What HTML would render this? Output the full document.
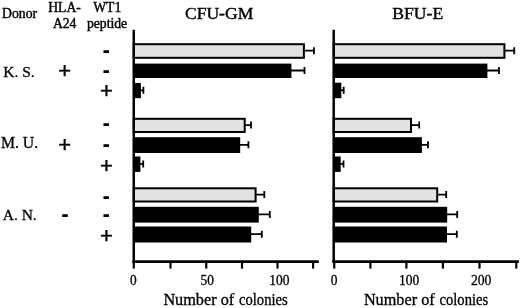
<!DOCTYPE html>
<html><head><meta charset="utf-8"><title>Colony assay</title>
<style>
html,body{margin:0;padding:0;background:#fff;}
svg{display:block;filter:blur(0.4px);}
text{font-family:"Liberation Serif",serif;fill:#000;stroke:#000;stroke-width:0.3px;}
.s{font-family:"Liberation Sans",sans-serif;}
</style></head><body>
<svg width="520" height="308" viewBox="0 0 520 308">
<rect width="520" height="308" fill="#fff"/>

<path d="M303.9 50.7H314M314 47.2V54.2" stroke="#000" stroke-width="1.8" fill="none"/>
<rect x="133.75" y="44.2" width="170.15" height="13.6" fill="#e2e2e2" stroke="#000" stroke-width="2"/>
<path d="M290.4 70.5H304.5M304.5 67.0V74.0" stroke="#000" stroke-width="1.8" fill="none"/>
<rect x="133.75" y="63.6" width="157.65" height="14.4" fill="#000"/>
<path d="M139.9 90.3H143.4M143.4 86.8V93.8" stroke="#000" stroke-width="1.8" fill="none"/>
<rect x="133.75" y="83" width="7.15" height="15.2" fill="#000"/>
<path d="M244.7 125.1H251.0M251.0 121.6V128.6" stroke="#000" stroke-width="1.8" fill="none"/>
<rect x="133.75" y="118.8" width="110.95" height="13.2" fill="#e2e2e2" stroke="#000" stroke-width="2"/>
<path d="M239.2 144.8H248.4M248.4 141.3V148.3" stroke="#000" stroke-width="1.8" fill="none"/>
<rect x="133.75" y="137.2" width="106.45" height="15.8" fill="#000"/>
<path d="M139.4 163.9H143.2M143.2 160.4V167.4" stroke="#000" stroke-width="1.8" fill="none"/>
<rect x="133.75" y="156.5" width="6.65" height="15.4" fill="#000"/>
<path d="M255.6 194.6H264.3M264.3 191.1V198.1" stroke="#000" stroke-width="1.8" fill="none"/>
<rect x="133.75" y="188.3" width="121.85" height="13.2" fill="#e2e2e2" stroke="#000" stroke-width="2"/>
<path d="M257.8 214.4H269.8M269.8 210.9V217.9" stroke="#000" stroke-width="1.8" fill="none"/>
<rect x="133.75" y="206.8" width="125.05" height="15.8" fill="#000"/>
<path d="M250.2 234.2H261.8M261.8 230.7V237.7" stroke="#000" stroke-width="1.8" fill="none"/>
<rect x="133.75" y="226.5" width="117.45" height="16.0" fill="#000"/>
<path d="M504.4 50.7H514.25M514.25 47.2V54.2" stroke="#000" stroke-width="1.8" fill="none"/>
<rect x="333.7" y="44.2" width="170.7" height="13.6" fill="#e2e2e2" stroke="#000" stroke-width="2"/>
<path d="M486.4 70.5H499M499 67.0V74.0" stroke="#000" stroke-width="1.8" fill="none"/>
<rect x="333.7" y="63.6" width="153.7" height="14.4" fill="#000"/>
<path d="M340.3 90.15H343.7M343.7 86.65V93.65" stroke="#000" stroke-width="1.8" fill="none"/>
<rect x="333.7" y="82.7" width="7.6" height="15.5" fill="#000"/>
<path d="M411.0 125.1H419.2M419.2 121.6V128.6" stroke="#000" stroke-width="1.8" fill="none"/>
<rect x="333.7" y="118.8" width="77.3" height="13.2" fill="#e2e2e2" stroke="#000" stroke-width="2"/>
<path d="M420.9 144.8H428.0M428.0 141.3V148.3" stroke="#000" stroke-width="1.8" fill="none"/>
<rect x="333.7" y="137.2" width="88.2" height="15.8" fill="#000"/>
<path d="M339.7 163.9H343.5M343.5 160.4V167.4" stroke="#000" stroke-width="1.8" fill="none"/>
<rect x="333.7" y="156.5" width="7.0" height="15.4" fill="#000"/>
<path d="M437.2 194.6H446.2M446.2 191.1V198.1" stroke="#000" stroke-width="1.8" fill="none"/>
<rect x="333.7" y="188.3" width="103.5" height="13.2" fill="#e2e2e2" stroke="#000" stroke-width="2"/>
<path d="M446.2 214.4H457.2M457.2 210.9V217.9" stroke="#000" stroke-width="1.8" fill="none"/>
<rect x="333.7" y="206.8" width="113.5" height="15.8" fill="#000"/>
<path d="M446.0 234.2H456.8M456.8 230.7V237.7" stroke="#000" stroke-width="1.8" fill="none"/>
<rect x="333.7" y="226.5" width="113.3" height="16.0" fill="#000"/>
<path d="M133.75 29.8V263" stroke="#000" stroke-width="2.5" fill="none"/>
<path d="M132.5 261.6H318.8" stroke="#000" stroke-width="2.8" fill="none"/>
<path d="M133.75 261.6V268.6" stroke="#000" stroke-width="2.2" fill="none"/>
<path d="M170.5 261.6V268.6" stroke="#000" stroke-width="2.2" fill="none"/>
<path d="M206.25 261.6V268.6" stroke="#000" stroke-width="2.2" fill="none"/>
<path d="M242 261.6V268.6" stroke="#000" stroke-width="2.2" fill="none"/>
<path d="M277.5 261.6V268.6" stroke="#000" stroke-width="2.2" fill="none"/>
<path d="M313.1 261.6V268.6" stroke="#000" stroke-width="2.2" fill="none"/>
<path d="M333.7 29.8V263" stroke="#000" stroke-width="2.5" fill="none"/>
<path d="M332.45 261.6H518.8" stroke="#000" stroke-width="2.8" fill="none"/>
<path d="M334.25 261.6V268.6" stroke="#000" stroke-width="2.2" fill="none"/>
<path d="M370.4 261.6V268.6" stroke="#000" stroke-width="2.2" fill="none"/>
<path d="M406.4 261.6V268.6" stroke="#000" stroke-width="2.2" fill="none"/>
<path d="M442.9 261.6V268.6" stroke="#000" stroke-width="2.2" fill="none"/>
<path d="M479.5 261.6V268.6" stroke="#000" stroke-width="2.2" fill="none"/>
<path d="M516.3 261.6V268.6" stroke="#000" stroke-width="2.2" fill="none"/>
<text x="2.1" y="18.2" font-size="13.7" style="stroke-width:0.4px">Donor</text>
<text x="48.2" y="12.2" font-size="13.7" style="stroke-width:0.4px">HLA-</text>
<text x="52.9" y="27.9" font-size="13.7" style="stroke-width:0.4px">A24</text>
<text x="93.2" y="12.2" font-size="13.7" style="stroke-width:0.4px">WT1</text>
<text x="86.9" y="27.9" font-size="13.7" style="stroke-width:0.4px">peptide</text>
<text x="184.9" y="18.9" font-size="17.6" style="stroke-width:0.4px">CFU-GM</text>
<text x="392.3" y="19.2" font-size="17.6" style="stroke-width:0.4px">BFU-E</text>
<text x="3.3" y="76.5" font-size="15.5">K. S.</text>
<text x="0.9" y="148.2" font-size="15.8">M. U.</text>
<text x="2.7" y="219.9" font-size="15.5">A. N.</text>
<text y="305.2" font-size="15.85"><tspan x="163.4" textLength="70.8" lengthAdjust="spacingAndGlyphs">Number of</tspan> <tspan x="239.0" textLength="48.7" lengthAdjust="spacingAndGlyphs">colonies</tspan></text>
<text y="305.2" font-size="15.85"><tspan x="363.9" textLength="70.8" lengthAdjust="spacingAndGlyphs">Number of</tspan> <tspan x="439.5" textLength="48.7" lengthAdjust="spacingAndGlyphs">colonies</tspan></text>
<text x="129.9" y="285.0" font-size="14" textLength="6.7" lengthAdjust="spacingAndGlyphs">0</text>
<text x="200.6" y="285.0" font-size="14" textLength="13.4" lengthAdjust="spacingAndGlyphs">50</text>
<text x="269.3" y="285.0" font-size="14" textLength="20.2" lengthAdjust="spacingAndGlyphs">100</text>
<text x="330.7" y="285.0" font-size="14" textLength="6.7" lengthAdjust="spacingAndGlyphs">0</text>
<text x="399.0" y="285.0" font-size="14" textLength="20.2" lengthAdjust="spacingAndGlyphs">100</text>
<text x="470.9" y="285.0" font-size="14" textLength="20.6" lengthAdjust="spacingAndGlyphs">200</text>
<text class="s" x="64.6" y="78.10" font-size="22" text-anchor="middle" style="stroke-width:0.4px">+</text>
<text class="s" x="64.6" y="151.60" font-size="22" text-anchor="middle" style="stroke-width:0.4px">+</text>
<text class="s" x="65" y="220.80" font-size="18" text-anchor="middle" style="stroke-width:1.2px">-</text>
<text class="s" x="106.2" y="56.90" font-size="18" text-anchor="middle" style="stroke-width:1.2px">-</text>
<text class="s" x="106.2" y="77.05" font-size="18" text-anchor="middle" style="stroke-width:1.2px">-</text>
<text class="s" x="106.5" y="97.90" font-size="22" text-anchor="middle" style="stroke-width:0.4px">+</text>
<text class="s" x="106.2" y="130.00" font-size="18" text-anchor="middle" style="stroke-width:1.2px">-</text>
<text class="s" x="106.2" y="150.50" font-size="18" text-anchor="middle" style="stroke-width:1.2px">-</text>
<text class="s" x="106.5" y="172.70" font-size="22" text-anchor="middle" style="stroke-width:0.4px">+</text>
<text class="s" x="106.2" y="202.60" font-size="18" text-anchor="middle" style="stroke-width:1.2px">-</text>
<text class="s" x="106.2" y="220.50" font-size="18" text-anchor="middle" style="stroke-width:1.2px">-</text>
<text class="s" x="106.5" y="243.30" font-size="22" text-anchor="middle" style="stroke-width:0.4px">+</text>
</svg></body></html>
